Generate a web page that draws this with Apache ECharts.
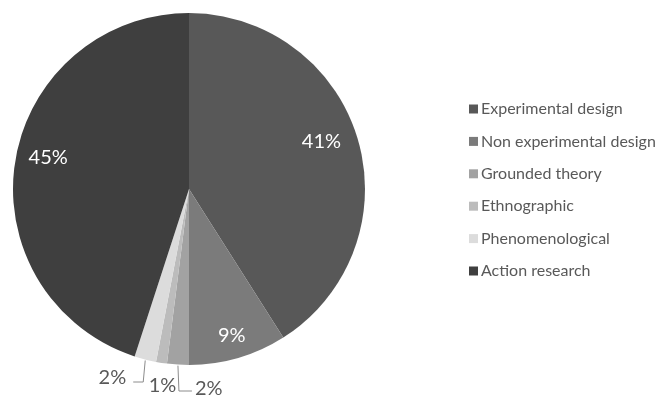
<!DOCTYPE html>
<html>
<head>
<meta charset="utf-8">
<script src="https://cdn.jsdelivr.net/npm/echarts@6/dist/echarts.min.js"></script>
<style>
  html, body { margin: 0; padding: 0; background: #fff; }
  #chart { width: 657px; height: 396px; }
</style>
</head>
<body>
<div id="chart"></div>
<script>
// Research designs, share of studies (%)
const categories = ['Experimental design', 'Non experimental design', 'Grounded theory', 'Ethnographic', 'Phenomenological', 'Action research'];
const shares = [41, 9, 2, 1, 2, 45];
const sliceColors = ['#585858', '#7b7b7b', '#a2a2a2', '#bcbcbc', '#dcdcdc', '#3f3f3f'];

// Pie geometry (pixels)
const CX = 189, CY = 189, R = 176;

// Where each slice's percentage sits: inside labels use a radius fraction
// and a small angular nudge; the thin slices get labels below the rim.
const labelSpots = [
  { kind: 'in', r: 0.80, turn: -3.6 },
  { kind: 'in', r: 0.87, turn: 0 },
  { kind: 'right' },
  { kind: 'below' },
  { kind: 'left' },
  { kind: 'in', r: 0.82, turn: 3.7 }
];

const total = shares.reduce((a, b) => a + b, 0);
const midAngles = [];
let acc = 0;
shares.forEach(v => { midAngles.push((acc + v / 2) / total * 360); acc += v; });

function polar(angleDeg, rr) {
  const a = angleDeg * Math.PI / 180;
  return [CX + rr * Math.sin(a), CY - rr * Math.cos(a)];
}

const data = categories.map((name, i) => {
  const spot = labelSpots[i];
  const inside = spot.kind === 'in';
  return {
    name: name,
    value: shares[i],
    itemStyle: { color: sliceColors[i] },
    label: { color: inside ? '#ffffff' : '#595959' },
    labelLine: { show: spot.kind === 'left' || spot.kind === 'right' }
  };
});

const chart = echarts.init(document.getElementById('chart'), null, { renderer: 'canvas' });
chart.setOption({
  animation: false,
  backgroundColor: '#ffffff',
  legend: {
    orient: 'vertical',
    left: 469,
    top: 101,
    padding: 0,
    icon: 'rect',
    itemWidth: 9,
    itemHeight: 9,
    itemGap: 16.4,
    data: categories,
    textStyle: { fontFamily: 'Lato', fontSize: 16, color: '#595959', lineHeight: 16, padding: [0, 0, 0, -2] }
  },
  series: [{
    type: 'pie',
    center: [CX, CY],
    radius: [0, R],
    startAngle: 90,
    clockwise: true,
    avoidLabelOverlap: false,
    data: data,
    itemStyle: { borderColor: '#ffffff', borderWidth: 0 },
    label: {
      show: true,
      position: 'outside',
      formatter: '{c}%',
      fontFamily: 'Lato',
      fontSize: 20
    },
    labelLine: {
      lineStyle: { color: '#8c8c8c', width: 1 }
    },
    labelLayout: function (params) {
      const i = params.dataIndex;
      const spot = labelSpots[i];
      const mid = midAngles[i];
      if (spot.kind === 'in') {
        const p = polar(mid + spot.turn, spot.r * R);
        return { x: p[0], y: p[1], align: 'center', verticalAlign: 'middle' };
      }
      const edge = polar(mid, R);
      if (spot.kind === 'below') {
        return { x: edge[0] + 1, y: edge[1] + 23, align: 'center', verticalAlign: 'middle' };
      }
      if (spot.kind === 'right') {
        return {
          x: edge[0] + 17, y: 389, align: 'left', verticalAlign: 'middle',
          labelLinePoints: [[edge[0], edge[1] + 1], [edge[0] + 1, 391], [edge[0] + 14, 391]]
        };
      }
      return {
        x: edge[0] - 19, y: 378, align: 'right', verticalAlign: 'middle',
        labelLinePoints: [[edge[0], edge[1] + 1], [edge[0] - 2, 382], [edge[0] - 12, 382]]
      };
    }
  }]
});
</script>
</body>
</html>
